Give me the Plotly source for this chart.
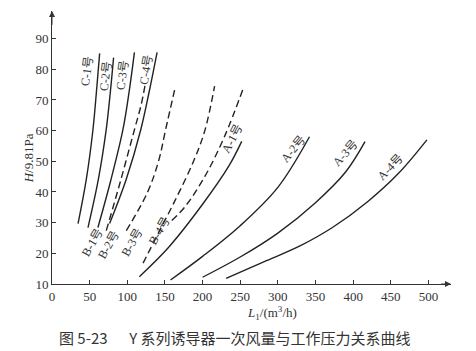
import plotly.graph_objects as go

# ---- data (L1 in m3/h, H in 9.81 Pa) ----
c1_L = [34.6, 45.5, 54.4, 59.0, 63.3]
c1_H = [29.7, 44.0, 60.3, 72.6, 85.2]
c2_L = [47.8, 61.5, 72.0, 77.5, 81.8]
c2_H = [28.4, 44.0, 60.3, 72.6, 83.8]
c3_L = [61.0, 78.3, 94.2, 102.4, 109.5]
c3_H = [28.4, 44.0, 60.3, 72.6, 85.5]
c4_L = [76.5, 98.4, 117.9, 129.0, 139.6]
c4_H = [29.7, 44.0, 60.3, 72.6, 85.5]

b1_L = [72.1, 91.5, 109.5, 118.5, 123.9]
b1_H = [27.4, 44.0, 60.3, 68.5, 75.2]
b2_L = [98.7, 126.9, 141.8, 150.9, 164.0]
b2_H = [27.4, 39.9, 50.3, 60.3, 74.5]
b3_L = [121.0, 140.0, 163.0, 188.0, 203.0, 216.0]
b3_H = [16.8, 26.0, 37.0, 50.0, 60.0, 74.5]
b4_L = [159.1, 177.0, 203.1, 229.2, 255.1]
b4_H = [30.7, 35.3, 45.1, 58.1, 74.5]

a1_L = [116.0, 155.0, 200.0, 235.0, 252.0]
a1_H = [12.4, 22.0, 36.0, 48.5, 56.5]
a2_L = [157.4, 200.0, 250.0, 300.0, 342.0]
a2_H = [11.3, 19.0, 29.0, 41.5, 58.0]
a3_L = [200.0, 250.0, 300.0, 350.0, 390.0, 415.8]
a3_H = [12.2, 18.8, 26.6, 36.5, 46.5, 56.4]
a4_L = [231.3, 285.0, 330.0, 373.0, 420.0, 460.0, 498.0]
a4_H = [11.8, 17.6, 22.5, 28.5, 37.0, 46.0, 57.0]

series = [
    ("C-1号", c1_L, c1_H, "solid"), ("C-2号", c2_L, c2_H, "solid"),
    ("C-3号", c3_L, c3_H, "solid"), ("C-4号", c4_L, c4_H, "solid"),
    ("B-1号", b1_L, b1_H, "dash"), ("B-2号", b2_L, b2_H, "dash"),
    ("B-3号", b3_L, b3_H, "dash"), ("B-4号", b4_L, b4_H, "dash"),
    ("A-1号", a1_L, a1_H, "solid"), ("A-2号", a2_L, a2_H, "solid"),
    ("A-3号", a3_L, a3_H, "solid"), ("A-4号", a4_L, a4_H, "solid"),
]

# curve labels: text, L, H, angle
label_text = ["C-1号", "C-2号", "C-3号", "C-4号",
              "B-1号", "B-2号", "B-3号", "B-4号",
              "A-1号", "A-2号", "A-3号", "A-4号"]
label_L = [46.5, 71.5, 94.0, 125.5, 52.7, 75.2, 105.6, 142.2, 240.0, 320.3, 389.7, 449.6]
label_H = [79.4, 77.7, 78.0, 80.0, 23.5, 22.6, 23.5, 27.4, 57.5, 54.0, 52.7, 48.1]
label_ang = [-82, -82, -82, -80, -60, -60, -60, -60, -62, -50, -48, -46]

x_ticks = [0, 50, 100, 150, 200, 250, 300, 350, 400, 450, 500]
y_ticks = [10, 20, 30, 40, 50, 60, 70, 80, 90]

LINE = "#222222"
TXT = "#333333"
SERIF = "Liberation Serif, Noto Sans CJK SC, serif"

fig = go.Figure()
for name, L, H, dash in series:
    fig.add_trace(go.Scatter(
        x=L, y=H, mode="lines", name=name,
        line=dict(color=LINE, width=1.4, dash="7px,4px" if dash == "dash" else "solid",
                  shape="spline", smoothing=1.0),
        showlegend=False, hoverinfo="skip"))

for t, lx, ly, a in zip(label_text, label_L, label_H, label_ang):
    fig.add_annotation(x=lx, y=ly, xref="x", yref="y", text=t, showarrow=False,
                       textangle=a, font=dict(family=SERIF, size=12, color=TXT))

# axis arrows
fig.add_annotation(x=530, y=10, ax=515, ay=10, xref="x", yref="y", axref="x", ayref="y",
                   text="", showarrow=True, arrowhead=2, arrowsize=1.2, arrowwidth=1, arrowcolor=TXT)
fig.add_annotation(x=0, y=99, ax=0, ay=94, xref="x", yref="y", axref="x", ayref="y",
                   text="", showarrow=True, arrowhead=2, arrowsize=1.2, arrowwidth=1, arrowcolor=TXT)

# axis titles and caption
fig.add_annotation(x=-0.058, y=0.46, xref="paper", yref="paper", xanchor="center", yanchor="middle",
                   text="<i>H</i>/9.81Pa", textangle=-90, showarrow=False,
                   font=dict(family=SERIF, size=13, color=TXT))
fig.add_annotation(x=0.551, y=-0.108, xref="paper", yref="paper", xanchor="center", yanchor="middle",
                   text="<i>L</i><sub>1</sub>/(m<sup>3</sup>/h)", showarrow=False,
                   font=dict(family=SERIF, size=13, color=TXT))
fig.add_annotation(x=0.459, y=-0.196, xref="paper", yref="paper", xanchor="center", yanchor="middle",
                   text="图 5-23　  Y 系列诱导器一次风量与工作压力关系曲线", showarrow=False,
                   font=dict(family="Noto Sans CJK SC", size=15, color=TXT))

fig.update_layout(
    width=476, height=351,
    margin=dict(l=52, r=25, t=11, b=67),
    paper_bgcolor="white", plot_bgcolor="white",
    xaxis=dict(range=[0, 530], tickvals=x_ticks, ticks="inside", ticklen=4, tickwidth=1,
               tickcolor=TXT, showline=True, linecolor=TXT, linewidth=1, showgrid=False,
               zeroline=False, tickfont=dict(family=SERIF, size=13, color=TXT)),
    yaxis=dict(range=[10, 99], tickvals=y_ticks, ticks="inside", ticklen=4, tickwidth=1,
               tickcolor=TXT, showline=True, linecolor=TXT, linewidth=1, showgrid=False,
               zeroline=False, tickfont=dict(family=SERIF, size=13, color=TXT)),
)

fig.write_html("out.html")
